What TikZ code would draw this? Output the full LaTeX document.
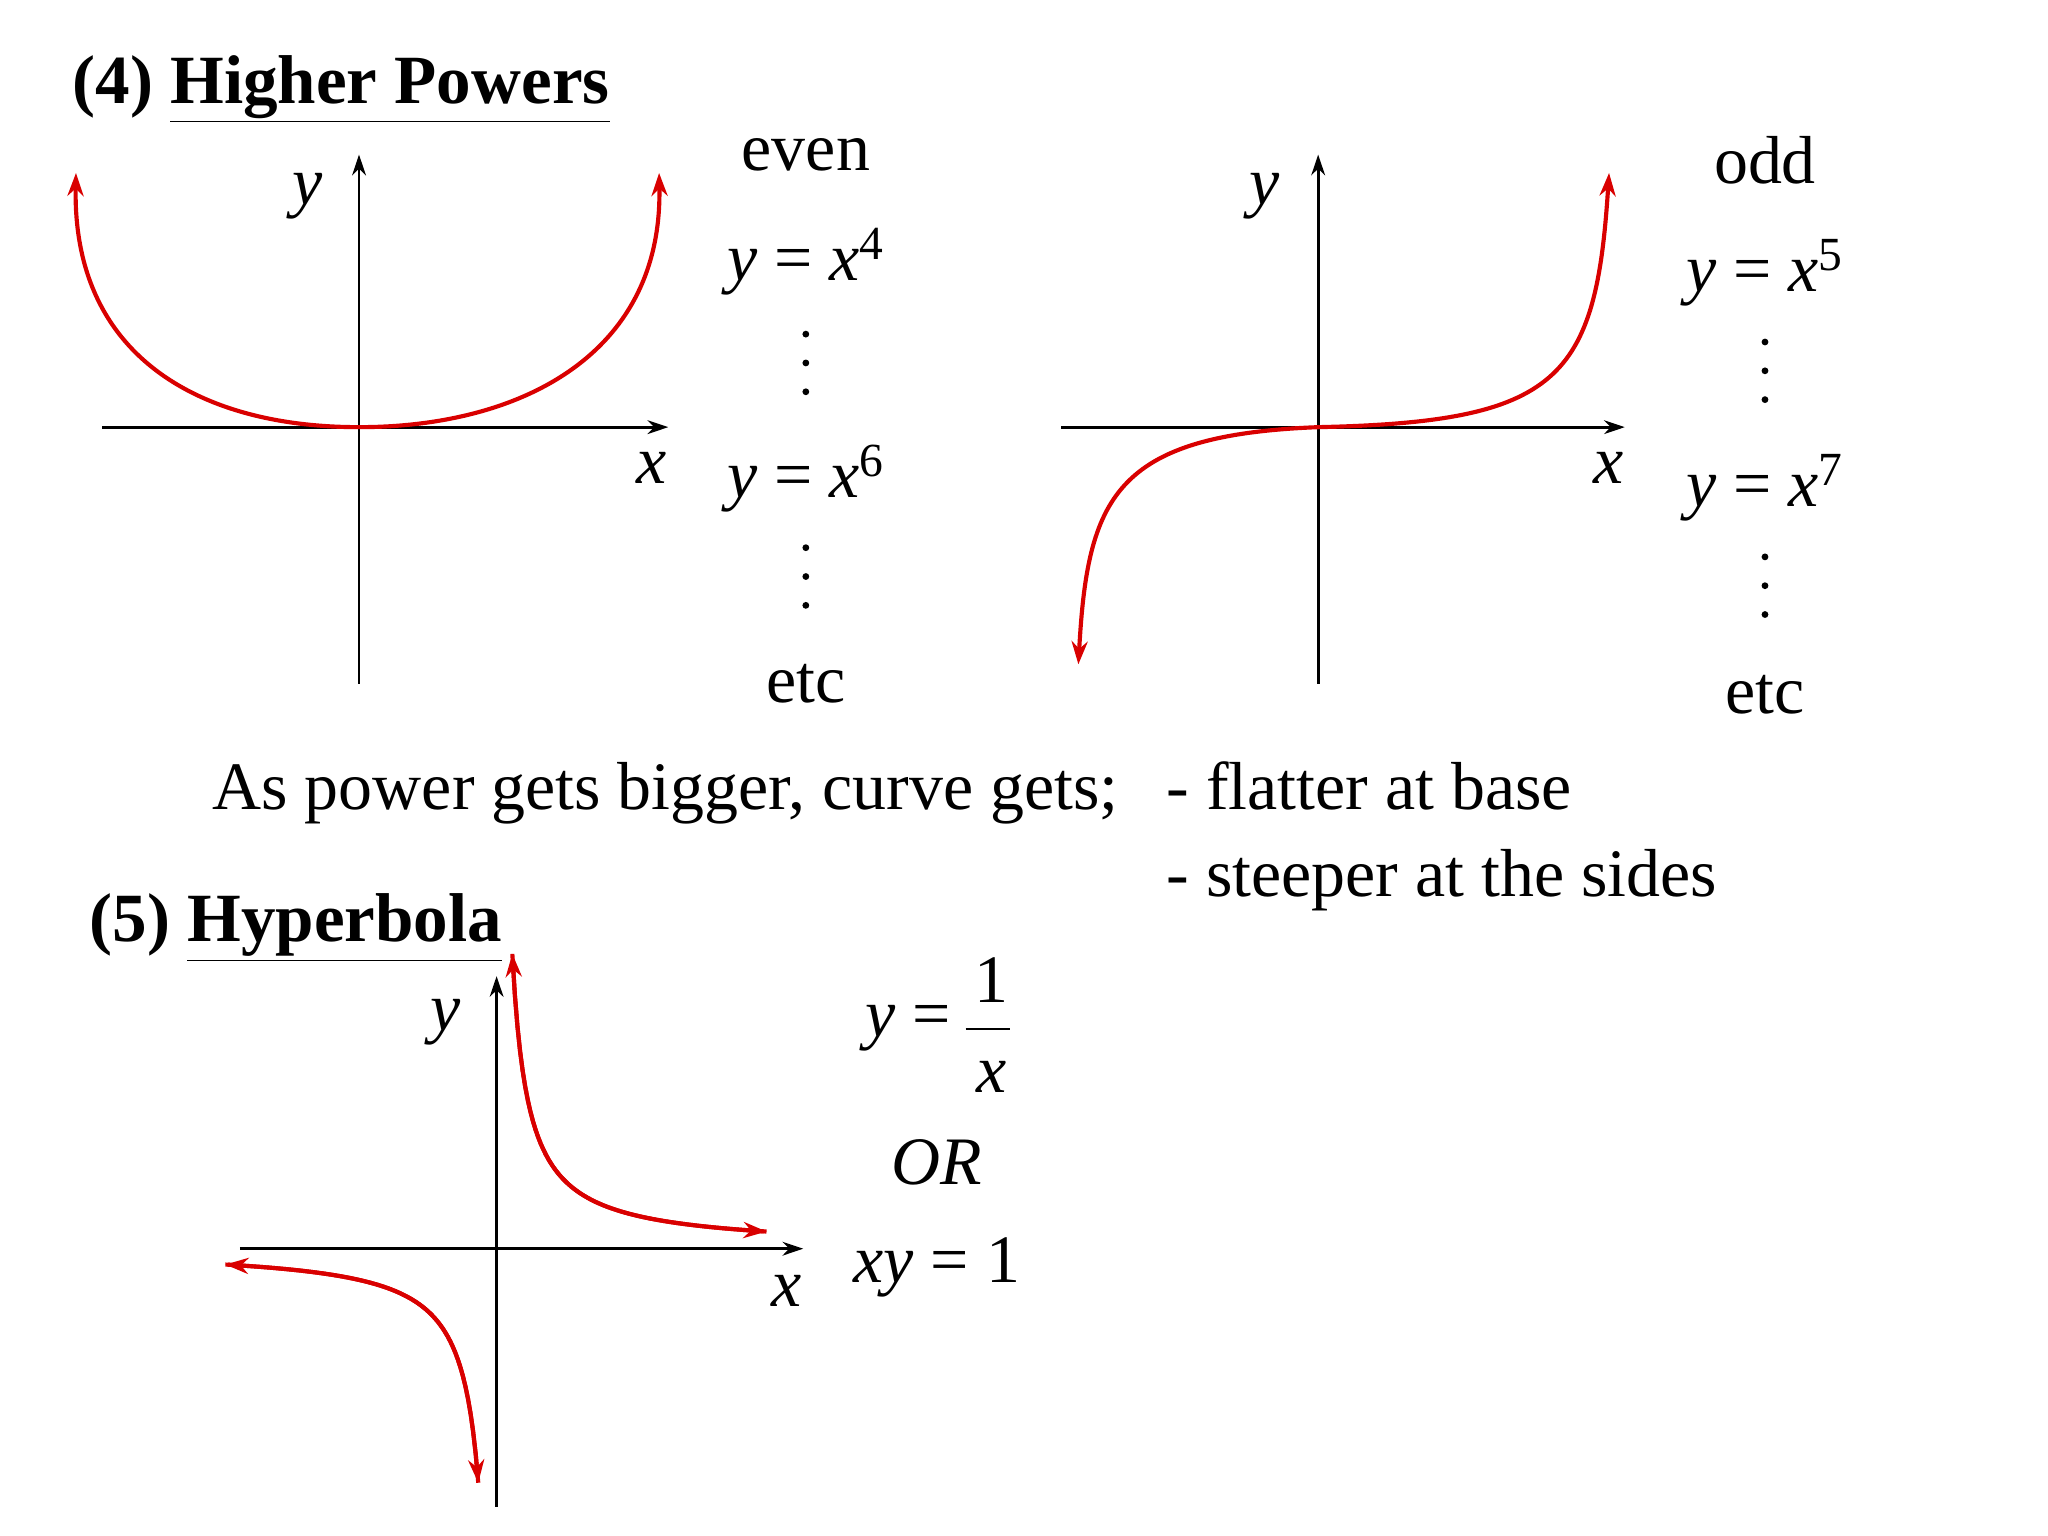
\documentclass[tikz,border=0pt]{standalone}
\usepackage{fontspec}
\setmainfont{Liberation Serif}
\usetikzlibrary{arrows.meta}
\tikzset{
 axis/.style={line width=1.2pt,-{Stealth[length=9pt,width=6pt]}},
 curve/.style={red!85!black,line width=1.8pt},
 rtip/.style={-{Stealth[length=10pt,width=7pt]}},
 txt/.style={font=\fontsize{29.5}{32}\selectfont,inner sep=0pt},
 ttl/.style={font=\fontsize{30}{34}\selectfont\bfseries,inner sep=0pt,anchor=west}
}
\newcommand{\mv}[1]{\textit{#1}}
\newcommand{\mydots}[1]{\foreach \dd in {-22,0,22} \fill (#1) ++(0,\dd) circle (2.6);}
\begin{document}
\begin{tikzpicture}[x=0.02cm,y=-0.02cm]
\useasboundingbox (0,0) rectangle (1563,1172);
% titles
\node[ttl] (t4) at (55,68) {(4) \underline{Higher Powers}};
\node[ttl] (t5) at (68,708) {(5) \underline{Hyperbola}};
% graph 1
\coordinate (a1) at (78,326); \coordinate (a2) at (510,326);
\coordinate (b1) at (274,522); \coordinate (b2) at (274,118);
\coordinate (o1) at (274,326);
\coordinate (p1) at (58,132); \coordinate (p2) at (503,132);
\draw[axis] (a1) -- (a2); \draw[axis] (b1) -- (b2);
\draw[curve,rtip] (o1) .. controls (150,326) and (55,270) .. (p1);
\draw[curve,rtip] (o1) .. controls (398,326) and (506,270) .. (p2);
\node[txt] (y1) at (235,150) {\mv{y}};
\node[txt] (x1) at (497,357) {\mv{x}};
\node[txt] (ev) at (615,118) {even};
\node[txt] (e4) at (615,200) {\mv{y} = \mv{x}\textsuperscript{4}};
\coordinate (d1) at (615,277); \mydots{d1}
\node[txt] (e6) at (615,365) {\mv{y} = \mv{x}\textsuperscript{6}};
\coordinate (d2) at (615,440); \mydots{d2}
\node[txt] (etc1) at (615,522) {etc};
% graph 2
\coordinate (c1) at (810,326); \coordinate (c2) at (1240,326);
\coordinate (f1) at (1006,522); \coordinate (f2) at (1006,118);
\coordinate (o2) at (1006,326);
\coordinate (q1) at (823,507); \coordinate (q2) at (1228,132);
\draw[axis] (c1) -- (c2); \draw[axis] (f1) -- (f2);
\draw[curve,rtip] (o2) .. controls (850,332) and (830,380) .. (q1);
\draw[curve,rtip] (o2) .. controls (1190,322) and (1218,290) .. (q2);
\node[txt] (y2) at (965,150) {\mv{y}};
\node[txt] (x2) at (1228,357) {\mv{x}};
\node[txt] (od) at (1347,122) {odd};
\node[txt] (o5) at (1347,208) {\mv{y} = \mv{x}\textsuperscript{5}};
\coordinate (d3) at (1347,283); \mydots{d3}
\node[txt] (o7) at (1347,372) {\mv{y} = \mv{x}\textsuperscript{7}};
\coordinate (d4) at (1347,447); \mydots{d4}
\node[txt] (etc2) at (1347,530) {etc};
% sentence
\node[txt,anchor=base] (s1) at (508,618) {As power gets bigger, curve gets;};
\node[txt,anchor=base west] (s2) at (890,618) {- flatter at base};
\node[txt,anchor=base west] (s3) at (890,684) {- steeper at the sides};
% graph 3
\coordinate (g1) at (183,953); \coordinate (g2) at (613,953);
\coordinate (h1) at (379,1150); \coordinate (h2) at (379,745);
\draw[axis] (g1) -- (g2); \draw[axis] (h1) -- (h2);
\draw[curve,rtip] plot[domain=206:12,samples=100] ({379+\x},{953-2700/\x});
\draw[curve,rtip] plot[domain=12:206,samples=100] ({379+\x},{953-2700/\x});
\draw[curve,rtip] plot[domain=14:207,samples=100] ({379-\x},{953+2500/\x});
\draw[curve,rtip] plot[domain=207:14,samples=100] ({379-\x},{953+2500/\x});
\node[txt,anchor=east] (hy) at (735,785) {\mv{y} =\,};
\node[txt] (n1) at (757,748) {1};
\node[txt] (dx) at (757,822) {\mv{x}};
\draw[line width=0.8pt] (hy.east) ++(2,0) coordinate (fb1) -- ++(34,0) coordinate (fb2);
\node[txt] (y3) at (340,780) {\mv{y}};
\node[txt] (x3) at (600,985) {\mv{x}};
\node[txt] (or) at (715,887) {\mv{OR}};
\node[txt] (xy) at (715,967) {\mv{xy} = 1};
\end{tikzpicture}
\end{document}
